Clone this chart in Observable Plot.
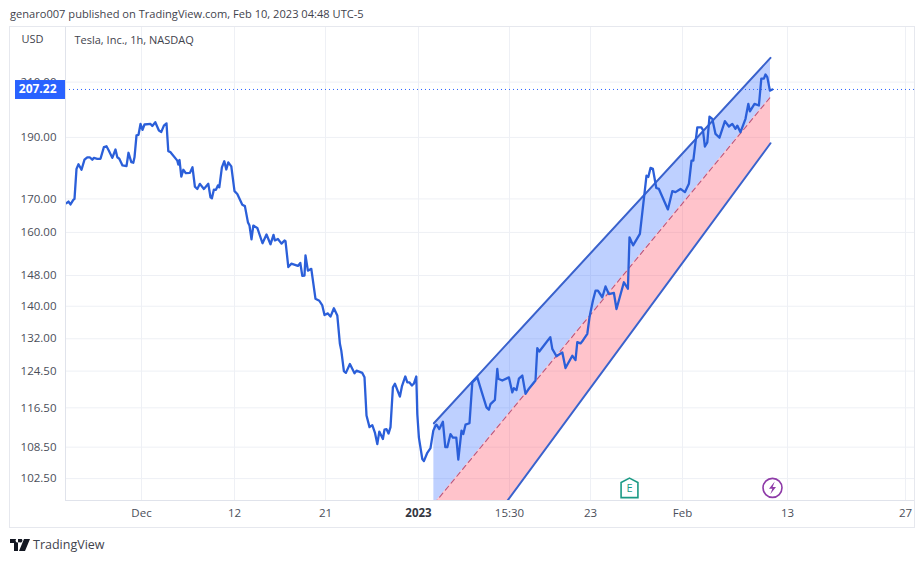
<!DOCTYPE html>
<html>
<head>
<meta charset="utf-8">
<script src="https://cdn.jsdelivr.net/npm/d3@7"></script>
<script src="https://cdn.jsdelivr.net/npm/@observablehq/plot@0.6"></script>
<style>
html,body{margin:0;padding:0;background:#fff;width:924px;height:563px;overflow:hidden;font-family:"Open Sans",sans-serif;color:#4a4e59}
#head{position:absolute;left:10px;top:6px;font-size:11.1px;line-height:16px;color:#3f434d;white-space:nowrap}
#frame{position:absolute;left:10px;top:27px;width:904px;height:500px;outline:1px solid #e6e8ee}
#frame svg{display:block;overflow:visible}
#foot{position:absolute;left:10px;top:537px;font-size:12.5px;line-height:16px;color:#3f434d;display:flex;align-items:center;gap:3px}
</style>
</head>
<body>
<div id="head">genaro007 published on TradingView.com, Feb 10, 2023 04:48 UTC-5</div>
<div id="frame"></div>
<div id="foot"><svg width="20" height="12" viewBox="0 0 20 12"><path d="M0 0H8V12H4V4H0Z M9 3A2 2 0 1 0 9 -0.01A2 2 0 1 0 9 3Z M14 0H20L15 12H9Z" fill="#131722"/></svg><span>TradingView</span></div>
<script>
const bars = [0.5,1.5,2.5,3.9,4.5,5.5,6.5,8,9.5,10.9,12.1,13.4,14.2,15.9,17.5,19.2,20.5,21.7,23.4,25,25.9,26.9,28.5,30.5,31.5,32.9,33.9,34.5,35.5,36.5,37.5,38.5,39.5,42.5,43.4,44.9,46.7,47.9,49.2,50.5,51.4,52.5,55.9,56.4,57,57.9,58.9,60.2,62.2,63.5,64.7,65.9,67.2,69.2,71.4,72.5,73.2,74.2,75.2,76.2,76.9,78.2,79.4,80.4,81.4,82.9,84.5,85.9,88.4,89.7,91.2,92,93,93.9,95.9,98.5,100.5,102.5,104,104.7,106.2,108,109.5,110,111.4,112.9,116.2,117.4,118.4,119.5,120,121.2,122.9,125,126.9,128.4,129.5,131.2,132.5,134.2,135.9,137.2,137.9,139.2,140.2,142.2,144.5,145.5,148.4,149.5,150.5,152,153.4,154.7,155.9,156.9,158.7,159.5,160.5,161.5,162.5,163.7,164.7,167.2,168.2,169.9,170.9,171.9,173.2,174.2,175.4,175.9,176.7,178.4,179.2,180.9,182.5,183.9,185,185.5,186.9,188.7,189.9,190.9,192.5,193.7,195.4,196.4,198,198.9,200,202,203.4,205.9,207.9,210.5,211.7,212.5,214.7,215.9,216.4,218.4,221.7,223.4,224.2,225.5,226.7,228.4,230,231.7,235,235.9,236.9,239.2,242.4,243.4,245.5,248.4,250,253.4,255,255.9,257.5,258.7,260.9,262,262.5,263.7,265,266.2,268.4,270,271.7,274.2,275.5,279.2,281.2,282,283.8,287.2,290.5,291.4,292.5,293.7,295.4,296.7,301.2,303.4,305,307.5,309.7,311.7,313,313.9,315.9,317.9,318.7,319.7,320.9,322,323.4,325,327,329.7,331.7,333.4,335,335.9,337.5,340,341.4,342.2,344.5,346.7,347.9,349.2,350,350.9,352.2,353.4];
const closes = [168.7,169.2,168.3,169.7,170,179.5,181,179.2,182.5,183.3,183.3,182.5,183.1,182.8,182.8,186.7,187,185.5,183.1,185.9,183.3,182.8,180.6,180.4,184.8,181.7,181.5,183.3,190.7,190.9,194.7,192.6,194.5,194.7,194,195.3,192.4,191.9,194.1,194.9,185.3,185,182.2,180.9,182.4,177,179.2,178.1,178.2,180,173.8,173.1,174.7,173.1,174.7,170.5,170.2,172.9,172.8,174.2,173.6,180,182,179.3,181.6,180.3,172.4,171.5,168.2,167.8,163,162,158,162,161.3,156.9,159.4,156.6,159.3,157.7,158.1,156.8,157.7,157.5,150.3,151.2,150.6,151.4,147.9,148,153.5,149.3,149.8,141.9,141.4,140.2,137.8,138.2,137.4,139.5,137.7,130.8,129.2,124.5,124.1,126.1,124,124.6,124.1,123.1,114.9,112.5,112.9,111.4,109.1,111.6,110.1,112,112.1,111.2,112.5,120.9,121.7,118.9,121.1,123.3,122,122,121.3,121.7,123.3,115.2,110.4,106.2,105.8,107.4,108.3,111.8,112.8,113,112.1,113.6,108.5,108.5,111.1,110.4,110.4,106.1,111.8,111.1,113,113.3,122,123.1,120.2,116.6,116.1,117.3,118.2,125,122.8,122.4,123.1,119.8,120.7,120.3,122.8,123.5,119.5,120.6,122.4,129.8,129,130.4,132.4,129.6,127.9,128.8,125.2,128,127,131.2,130.9,131.6,133.2,137.2,138.5,141.4,144,144,142.3,145.1,143.1,143.4,139.3,146.2,144.5,158.6,156.3,159.6,177.3,176.9,179.8,179.5,173.4,173.1,166.8,172.4,172.1,173.1,172.1,174.7,182.2,182.2,193.5,193.5,192.6,186.9,188.3,197.3,196.5,191.2,189.9,195.7,193.8,194.7,193,194.1,191.8,196.5,201.9,199.2,201.9,201.3,211.3,211.3,212.9,211.9,206.8,207.22];

const priceTicks = [102.5,108.5,116.5,124.5,132,140,148,160,170,190,210];
const timeTicks = [38,84.5,130,222,262.5,308.5,361,420];
const timeLabels = ["Dec","12","21","15:30","23","Feb","13","27"];
const yearTick = [176.5];
const yearLabel = ["2023"];
const lastPrice = 207.22;

const channelBars = [184.2,352.5];
const channelUpper = [113.3,219.4];
const channelMiddle = [97.9,204.4];
const channelLower = [82.2,188.0];

const earningsEvent = [{bar:282,price:100.8}];
const splitEvent = [{bar:353.5,price:100.8}];

const series = bars.map((b,i)=>({bar:b,price:closes[i]}));
const channel = channelBars.map((b,i)=>({bar:b,up:channelUpper[i],mid:channelMiddle[i],low:channelLower[i]}));
const labelFor = new Map(timeTicks.map((t,i)=>[t,timeLabels[i]]));

const house = {draw(c,r){const s=Math.sqrt(r);c.moveTo(0,-s*1.1);c.lineTo(s*.95,-s*.6);c.lineTo(s*.95,s*1.1);c.lineTo(-s*.95,s*1.1);c.lineTo(-s*.95,-s*.6);c.closePath();}};
const bolt = {draw(c,r){const s=Math.sqrt(r);c.moveTo(s*.35,-s);c.lineTo(-s*.55,s*.15);c.lineTo(-.02*s,s*.15);c.lineTo(-s*.35,s);c.lineTo(s*.55,-s*.15);c.lineTo(.02*s,-s*.15);c.closePath();}};

const chart = Plot.plot({
  width:904,height:500,marginLeft:55,marginRight:0,marginTop:0,marginBottom:27,
  style:{background:"#fff",fontFamily:"'Open Sans',sans-serif",fontSize:"11.5px",color:"#4a4e59"},
  x:{domain:[0,424.5],axis:null},
  y:{type:"log",domain:[98.52,231.8],axis:null},
  marks:[
    Plot.gridY(priceTicks,{stroke:"#eef0f5",strokeOpacity:1}),
    Plot.gridX([...timeTicks,...yearTick],{stroke:"#eef0f5",strokeOpacity:1}),
    Plot.axisY(priceTicks,{tickSize:0,tickPadding:9,label:null,tickFormat:d=>d.toFixed(2),fill:"#4a4e59"}),
    Plot.axisX(timeTicks,{tickSize:0,tickPadding:8,label:null,tickFormat:d=>labelFor.get(d),fill:"#4a4e59"}),
    Plot.axisX(yearTick,{tickSize:0,tickPadding:8,label:null,tickFormat:()=>yearLabel[0],fontWeight:"bold",fill:"#33363f"}),
    Plot.areaY(channel,{x:"bar",y1:"up",y2:"mid",fill:"#2962ff",fillOpacity:.3,clip:true}),
    Plot.areaY(channel,{x:"bar",y1:"mid",y2:"low",fill:"#ff5a70",fillOpacity:.36,clip:true}),
    Plot.line(channel,{x:"bar",y:"up",stroke:"#3a62cc",strokeWidth:2,clip:true}),
    Plot.line(channel,{x:"bar",y:"low",stroke:"#3a62cc",strokeWidth:2,clip:true}),
    Plot.line(channel,{x:"bar",y:"mid",stroke:"#b9577e",strokeWidth:1.1,strokeDasharray:"5,4",clip:true}),
    Plot.ruleY([lastPrice],{stroke:"#2962ff",strokeWidth:1,strokeDasharray:"1,3"}),
    Plot.line(series,{x:"bar",y:"price",stroke:"#2b5fd9",strokeWidth:2.3,strokeLinejoin:"round",clip:true}),
    Plot.ruleX([0],{stroke:"#e0e3eb"}),
    Plot.ruleY([98.52],{stroke:"#e0e3eb"}),
    Plot.rect([{p:lastPrice}],{x1:-25,x2:0,y1:203.5,y2:210.6,fill:"#2962ff",clip:false}),
    Plot.text([lastPrice],{x:-4.5,y:d=>d,text:d=>d.toFixed(2),textAnchor:"end",fill:"#fff",fontWeight:"bold",fontSize:12}),
    Plot.dot(earningsEvent,{x:"bar",y:"price",symbol:house,r:5,fill:"#fff",stroke:"#1c9a84",strokeWidth:1.6}),
    Plot.text(earningsEvent,{x:"bar",y:"price",text:()=>"E",fill:"#1c9a84",fontSize:11,dy:.5}),
    Plot.dot(splitEvent,{x:"bar",y:"price",r:9.5,fill:"#fff",stroke:"#8e3ba8",strokeWidth:1.6}),
    Plot.dot(splitEvent,{x:"bar",y:"price",symbol:bolt,r:3.6,fill:"#8e3ba8"}),
    Plot.text(["USD"],{frameAnchor:"top-left",dx:-44,dy:8,fill:"#3f434d",fontSize:11}),
    Plot.text(["Tesla, Inc., 1h, NASDAQ"],{frameAnchor:"top-left",dx:9,dy:9,fill:"#3f434d",fontSize:11})
  ]
});
document.getElementById("frame").appendChild(chart);
</script>
</body>
</html>
